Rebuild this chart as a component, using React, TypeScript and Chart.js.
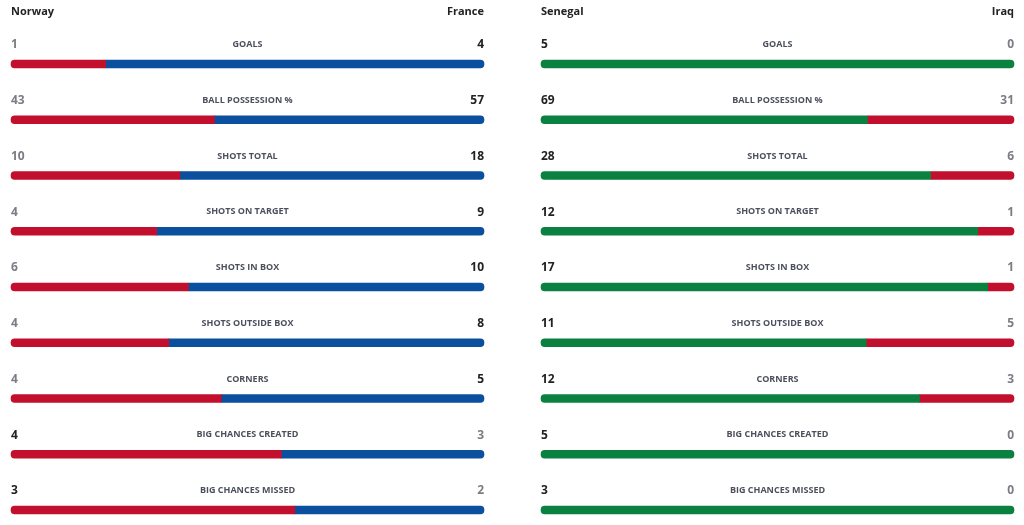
import React, { useEffect, useRef } from "react";
import { Chart, registerables } from "chart.js";

Chart.register(...registerables);

// Match statistics, one row per category
const statCategories = [
  "GOALS",
  "BALL POSSESSION %",
  "SHOTS TOTAL",
  "SHOTS ON TARGET",
  "SHOTS IN BOX",
  "SHOTS OUTSIDE BOX",
  "CORNERS",
  "BIG CHANCES CREATED",
  "BIG CHANCES MISSED",
];

const norwayValues = [1, 43, 10, 4, 6, 4, 4, 4, 3];
const franceValues = [4, 57, 18, 9, 10, 8, 5, 3, 2];
const senegalValues = [5, 69, 28, 12, 17, 11, 12, 5, 3];
const iraqValues = [0, 31, 6, 1, 1, 5, 3, 0, 0];

const RED = "#c20f2d";
const BLUE = "#0b4f9f";
const GREEN = "#0a8140";

const FONT = "'Open Sans', 'Noto Sans', sans-serif";

type MatchProps = {
  homeName: string;
  awayName: string;
  home: number[];
  away: number[];
  homeColor: string;
  awayColor: string;
  padLeft: number;
  padRight: number;
};

// Each side's share of the row total; zero shares are left empty
function shares(home: number[], away: number[]) {
  const h = home.map((v, i) => {
    const t = v + away[i];
    return t === 0 ? 0.5 : v / t;
  });
  const a = h.map((v) => 1 - v);
  return {
    h: h.map((v) => (v === 0 ? null : v)),
    a: a.map((v) => (v === 0 ? null : v)),
  };
}

function MatchStats(props: MatchProps) {
  const ref = useRef<HTMLCanvasElement | null>(null);

  useEffect(() => {
    if (!ref.current) return;
    const { homeName, awayName, home, away, homeColor, awayColor } = props;
    const { h, a } = shares(home, away);
    const R = 4;

    const textPlugin = {
      id: "statText",
      afterDatasetsDraw(chart: any) {
        const { ctx, chartArea } = chart;
        const y = chart.scales.y;
        const cx = (chartArea.left + chartArea.right) / 2;
        ctx.save();
        ctx.textBaseline = "middle";
        // team names
        ctx.fillStyle = "#222222";
        ctx.font = `700 11px ${FONT}`;
        ctx.textAlign = "left";
        ctx.fillText(homeName, chartArea.left, 12);
        ctx.textAlign = "right";
        ctx.fillText(awayName, chartArea.right, 12);
        statCategories.forEach((label, i) => {
          const ty = y.getPixelForValue(i) - 19.5;
          ctx.font = `700 9px ${FONT}`;
          ctx.fillStyle = "#4b505c";
          ctx.textAlign = "center";
          ctx.fillText(label, cx, ty);
          const homeLead = home[i] >= away[i];
          ctx.font = `700 12px ${FONT}`;
          ctx.textAlign = "left";
          ctx.fillStyle = homeLead ? "#222222" : "#7a7d83";
          ctx.fillText(String(home[i]), chartArea.left, ty + 0.5);
          ctx.textAlign = "right";
          ctx.fillStyle = !homeLead ? "#222222" : "#7a7d83";
          ctx.fillText(String(away[i]), chartArea.right, ty + 0.5);
        });
        ctx.restore();
      },
    };

    const chart = new Chart(ref.current, {
      type: "bar",
      data: {
        labels: statCategories,
        datasets: [
          {
            label: homeName,
            data: h,
            backgroundColor: homeColor,
            barThickness: 8,
            borderSkipped: false,
            clip: false,
            borderRadius: (c: any) => {
              const full = a[c.dataIndex] === null;
              return { topLeft: R, bottomLeft: R, topRight: full ? R : 0, bottomRight: full ? R : 0 };
            },
          },
          {
            label: awayName,
            data: a,
            backgroundColor: awayColor,
            barThickness: 8,
            borderSkipped: false,
            clip: false,
            borderRadius: (c: any) => {
              const full = h[c.dataIndex] === null;
              return { topLeft: full ? R : 0, bottomLeft: full ? R : 0, topRight: R, bottomRight: R };
            },
          },
        ],
      } as any,
      options: {
        indexAxis: "y",
        animation: false,
        responsive: false,
        maintainAspectRatio: false,
        layout: { padding: { left: props.padLeft, right: props.padRight, top: 64, bottom: 15 } },
        scales: {
          x: { stacked: true, min: 0, max: 1, display: false },
          y: { stacked: true, display: false, offset: false },
        },
        plugins: { legend: { display: false }, tooltip: { enabled: false } },
      } as any,
      plugins: [textPlugin],
    });
    return () => chart.destroy();
  }, []);

  return <canvas ref={ref} width={512} height={525} style={{ display: "block" }} />;
}

export default function App() {
  useEffect(() => {
    document.body.style.margin = "0";
    document.body.style.background = "#ffffff";
  }, []);
  return (
    <div style={{ display: "flex", width: 1024, height: 525, background: "#fff" }}>
      <MatchStats
        homeName="Norway"
        awayName="France"
        home={norwayValues}
        away={franceValues}
        homeColor={RED}
        awayColor={BLUE}
        padLeft={11}
        padRight={28}
      />
      <MatchStats
        homeName="Senegal"
        awayName="Iraq"
        home={senegalValues}
        away={iraqValues}
        homeColor={GREEN}
        awayColor={RED}
        padLeft={29}
        padRight={10}
      />
    </div>
  );
}
